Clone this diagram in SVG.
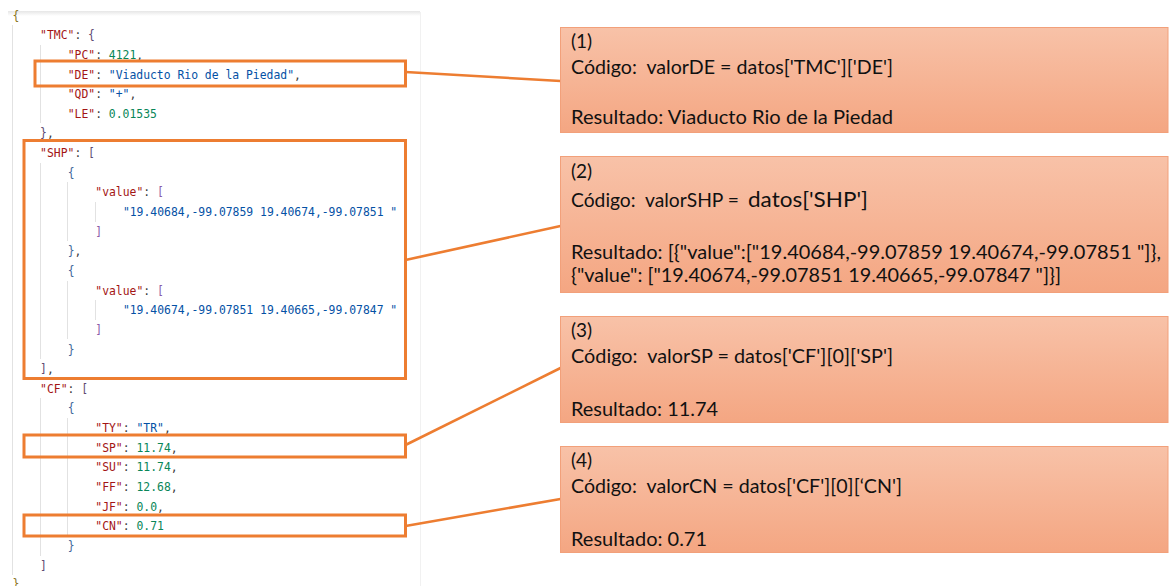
<svg xmlns="http://www.w3.org/2000/svg" width="1169" height="586" viewBox="0 0 1169 586">
  <style>
    .code { font-family: "DejaVu Sans Mono", "Liberation Mono", monospace; font-size: 11.4px; white-space: pre; fill: #3b3b3b; }
    .k { fill: #a31515; }
    .s { fill: #0451a5; }
    .n { fill: #098658; }
    .b0 { fill: #8a7520; }
    .b1 { fill: #5e4a72; }
    .b2 { fill: #41679a; }
    .b3 { fill: #8a5aa8; }
    .guide { stroke: #e2e2e2; stroke-width: 1; }
    .hl { fill: none; stroke: #ed7d31; stroke-width: 3; }
    .link { stroke: #ed7d31; stroke-width: 2.6; fill: none; }
    .box { fill: url(#boxFill); stroke: #f2a07a; stroke-width: 1; }
    .lbl { font-family: Lato, "Open Sans", "Liberation Sans", sans-serif; font-size: 19px; fill: #111; white-space: pre; }
  </style>
  <defs>
    <linearGradient id="boxFill" x1="0" y1="0" x2="0" y2="1">
      <stop offset="0" stop-color="#f8c2a8"/>
      <stop offset="1" stop-color="#f4a682"/>
    </linearGradient>
    <linearGradient id="topShade" x1="0" y1="0" x2="0" y2="1">
      <stop offset="0" stop-color="#e6e6e6"/>
      <stop offset="1" stop-color="#ffffff"/>
    </linearGradient>
  </defs>

  <rect width="1169" height="586" fill="#ffffff"/>

  <!-- editor panel frame -->
  <g id="editor-frame">
    <rect x="8" y="11" width="412" height="5" fill="url(#topShade)"/>
    <line x1="420.5" y1="12" x2="420.5" y2="586" stroke="#f1f1f1" stroke-width="1"/>
  </g>

  <!-- indentation guides -->
  <g id="indent-guides">
    <line class="guide" x1="12.5" y1="25" x2="12.5" y2="575"/>
    <line class="guide" x1="40.5" y1="45" x2="40.5" y2="123"/>
    <line class="guide" x1="40.5" y1="163" x2="40.5" y2="359"/>
    <line class="guide" x1="40.5" y1="398" x2="40.5" y2="556"/>
    <line class="guide" x1="67.5" y1="182" x2="67.5" y2="241"/>
    <line class="guide" x1="67.5" y1="281" x2="67.5" y2="339"/>
    <line class="guide" x1="67.5" y1="418" x2="67.5" y2="536"/>
    <line class="guide" x1="95.5" y1="202" x2="95.5" y2="222"/>
    <line class="guide" x1="95.5" y1="300" x2="95.5" y2="320"/>
  </g>

  <!-- JSON source -->
  <g id="json-source" class="code">
    <text x="12.5" y="19.6"><tspan class="b0">{</tspan></text>
    <text x="40.1" y="39.2"><tspan class="k">"TMC"</tspan>: <tspan class="b1">{</tspan></text>
    <text x="67.7" y="58.9"><tspan class="k">"PC"</tspan>: <tspan class="n">4121</tspan>,</text>
    <text x="67.7" y="78.5"><tspan class="k">"DE"</tspan>: <tspan class="s">"Viaducto Rio de la Piedad"</tspan>,</text>
    <text x="67.7" y="98.2"><tspan class="k">"QD"</tspan>: <tspan class="s">"+"</tspan>,</text>
    <text x="67.7" y="117.8"><tspan class="k">"LE"</tspan>: <tspan class="n">0.01535</tspan></text>
    <text x="40.1" y="137.4"><tspan class="b1">}</tspan>,</text>
    <text x="40.1" y="157.1"><tspan class="k">"SHP"</tspan>: <tspan class="b1">[</tspan></text>
    <text x="67.7" y="176.7"><tspan class="b2">{</tspan></text>
    <text x="95.3" y="196.4"><tspan class="k">"value"</tspan>: <tspan class="b3">[</tspan></text>
    <text x="122.9" y="216.0"><tspan class="s">"19.40684,-99.07859 19.40674,-99.07851 "</tspan></text>
    <text x="95.3" y="235.6"><tspan class="b3">]</tspan></text>
    <text x="67.7" y="255.3"><tspan class="b2">}</tspan>,</text>
    <text x="67.7" y="274.9"><tspan class="b2">{</tspan></text>
    <text x="95.3" y="294.6"><tspan class="k">"value"</tspan>: <tspan class="b3">[</tspan></text>
    <text x="122.9" y="314.2"><tspan class="s">"19.40674,-99.07851 19.40665,-99.07847 "</tspan></text>
    <text x="95.3" y="333.8"><tspan class="b3">]</tspan></text>
    <text x="67.7" y="353.5"><tspan class="b2">}</tspan></text>
    <text x="40.1" y="373.1"><tspan class="b1">]</tspan>,</text>
    <text x="40.1" y="392.8"><tspan class="k">"CF"</tspan>: <tspan class="b1">[</tspan></text>
    <text x="67.7" y="412.4"><tspan class="b2">{</tspan></text>
    <text x="95.3" y="432.0"><tspan class="k">"TY"</tspan>: <tspan class="s">"TR"</tspan>,</text>
    <text x="95.3" y="451.7"><tspan class="k">"SP"</tspan>: <tspan class="n">11.74</tspan>,</text>
    <text x="95.3" y="471.3"><tspan class="k">"SU"</tspan>: <tspan class="n">11.74</tspan>,</text>
    <text x="95.3" y="491.0"><tspan class="k">"FF"</tspan>: <tspan class="n">12.68</tspan>,</text>
    <text x="95.3" y="510.6"><tspan class="k">"JF"</tspan>: <tspan class="n">0.0</tspan>,</text>
    <text x="95.3" y="530.2"><tspan class="k">"CN"</tspan>: <tspan class="n">0.71</tspan></text>
    <text x="67.7" y="549.9"><tspan class="b2">}</tspan></text>
    <text x="40.1" y="569.5"><tspan class="b1">]</tspan></text>
    <text x="12.5" y="587.5"><tspan class="b0">}</tspan></text>
  </g>

  <!-- highlighted source lines -->
  <g id="mark-DE"><rect class="hl" x="35" y="61" width="370.5" height="25"/></g>
  <g id="mark-SHP"><rect class="hl" x="24" y="140.5" width="381.5" height="238"/></g>
  <g id="mark-SP"><rect class="hl" x="24" y="435" width="381.5" height="22"/></g>
  <g id="mark-CN"><rect class="hl" x="24" y="515" width="381.5" height="21"/></g>

  <!-- connectors -->
  <g id="connectors">
    <line class="link" x1="405.5" y1="72" x2="560.5" y2="81"/>
    <line class="link" x1="405.5" y1="260" x2="560.5" y2="226"/>
    <line class="link" x1="405.5" y1="445" x2="560.5" y2="368"/>
    <line class="link" x1="405.5" y1="526" x2="560.5" y2="499"/>
  </g>

  <!-- explanation boxes -->
  <g id="note-1">
    <rect class="box" x="560.5" y="27.5" width="607.5" height="105"/>
    <text class="lbl" x="571" y="48">(1)</text>
    <text class="lbl" x="571" y="74" textLength="322" lengthAdjust="spacingAndGlyphs">Código:  valorDE = datos['TMC']['DE']</text>
    <text class="lbl" x="571" y="124" textLength="322" lengthAdjust="spacingAndGlyphs">Resultado: Viaducto Rio de la Piedad</text>
  </g>

  <g id="note-2">
    <rect class="box" x="560.5" y="156.5" width="607.5" height="136"/>
    <text class="lbl" x="571" y="178">(2)</text>
    <text class="lbl" x="571" y="207" textLength="168" lengthAdjust="spacingAndGlyphs">Código:  valorSHP =</text>
    <text class="lbl" x="748" y="207" style="font-size:21.8px" textLength="120" lengthAdjust="spacingAndGlyphs">datos['SHP']</text>
    <text class="lbl" x="571" y="259" textLength="590" lengthAdjust="spacingAndGlyphs">Resultado: [{"value":["19.40684,-99.07859 19.40674,-99.07851 "]},</text>
    <text class="lbl" x="571" y="282" textLength="490" lengthAdjust="spacingAndGlyphs">{"value": ["19.40674,-99.07851 19.40665,-99.07847 "]}]</text>
  </g>

  <g id="note-3">
    <rect class="box" x="560.5" y="316.5" width="607.5" height="106"/>
    <text class="lbl" x="571" y="337">(3)</text>
    <text class="lbl" x="571" y="363" textLength="322" lengthAdjust="spacingAndGlyphs">Código:  valorSP = datos['CF'][0]['SP']</text>
    <text class="lbl" x="571" y="416" textLength="147" lengthAdjust="spacingAndGlyphs">Resultado: 11.74</text>
  </g>

  <g id="note-4">
    <rect class="box" x="560.5" y="446.5" width="607.5" height="106"/>
    <text class="lbl" x="571" y="467">(4)</text>
    <text class="lbl" x="571" y="493" textLength="331" lengthAdjust="spacingAndGlyphs">Código:  valorCN = datos['CF'][0][‘CN']</text>
    <text class="lbl" x="571" y="546" textLength="136" lengthAdjust="spacingAndGlyphs">Resultado: 0.71</text>
  </g>
</svg>
